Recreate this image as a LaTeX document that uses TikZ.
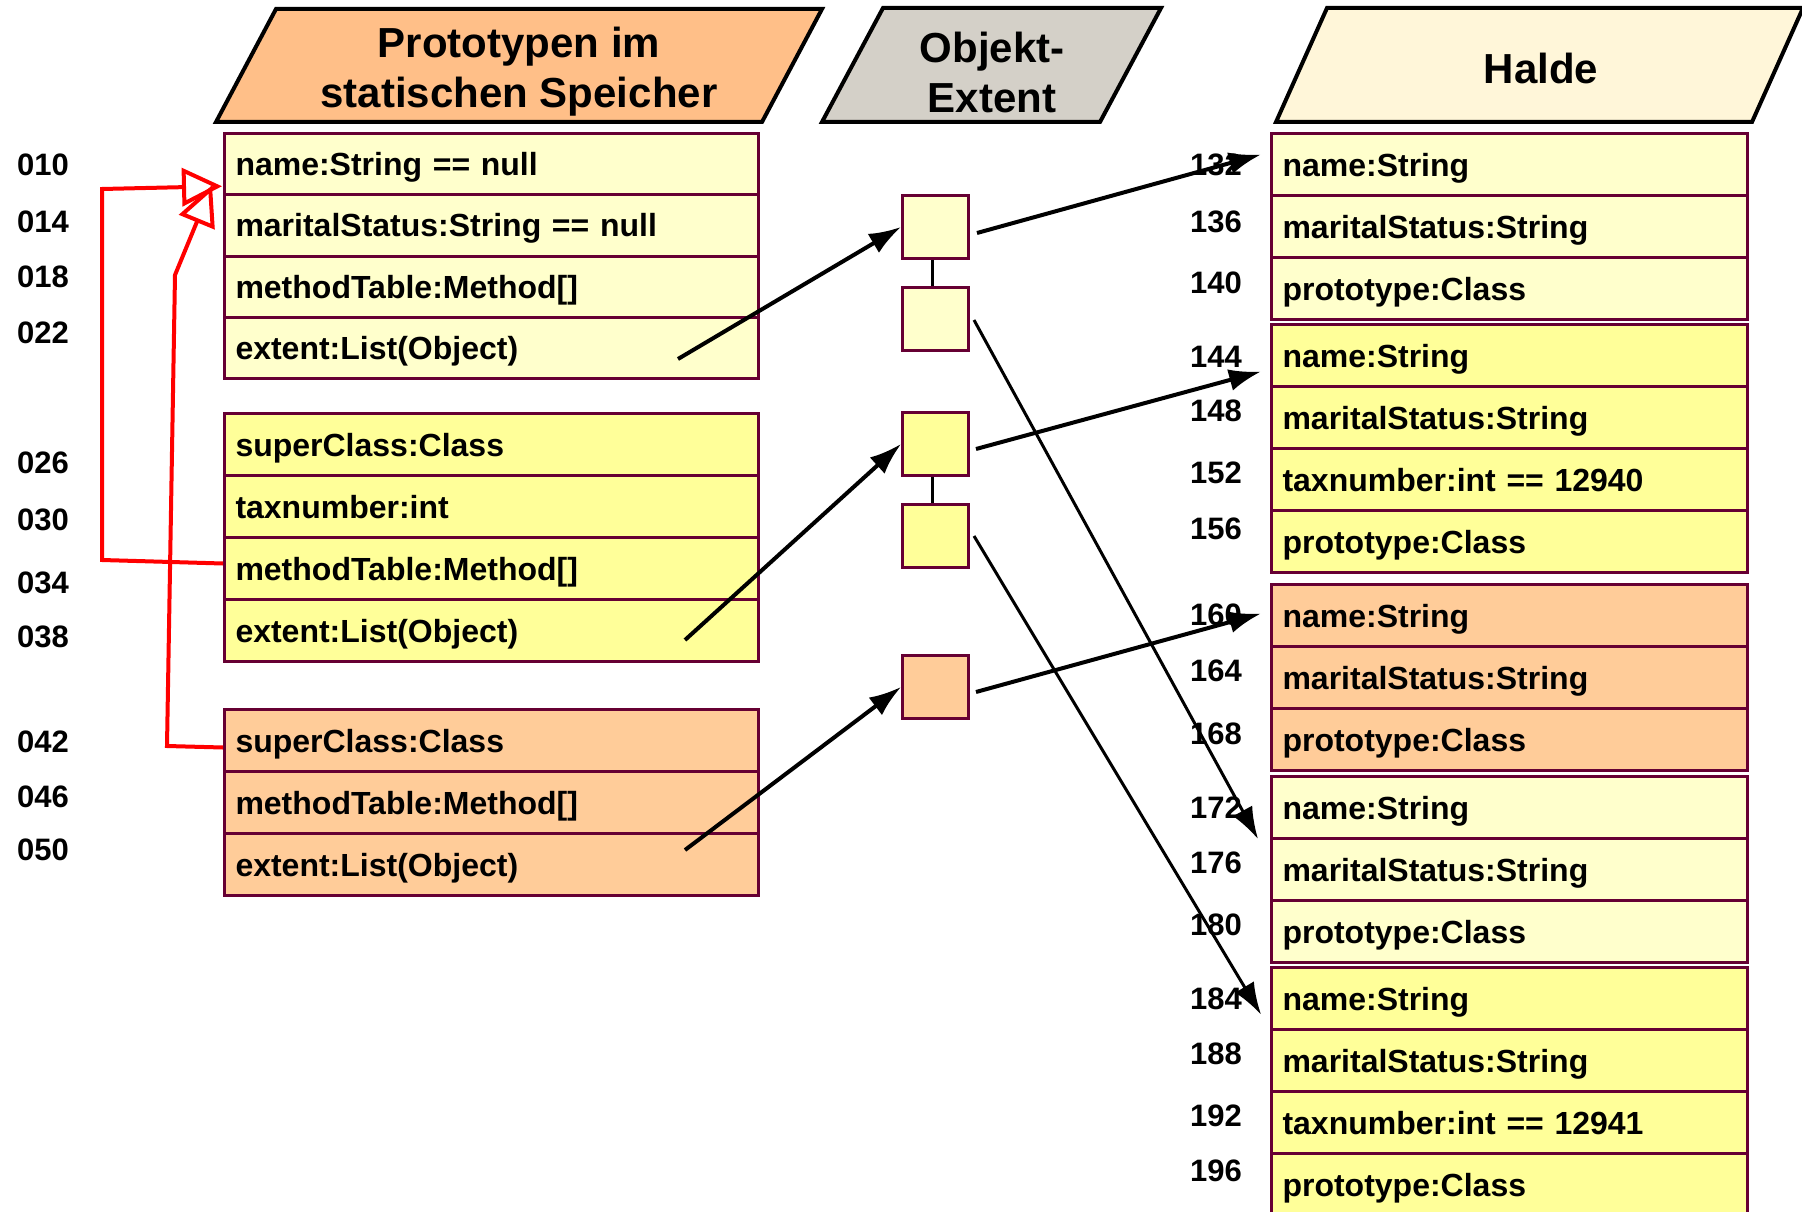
\documentclass[tikz,border=0pt]{standalone}
\usepackage{fontspec}
\setmainfont{Liberation Sans}
\usetikzlibrary{arrows.meta,calc}
\definecolor{lyel}{HTML}{FFFFCC}
\definecolor{yel}{HTML}{FFFF99}
\definecolor{ora}{HTML}{FFCC99}
\definecolor{titora}{HTML}{FFBF88}
\definecolor{titgray}{HTML}{D4D0C8}
\definecolor{titcream}{HTML}{FFF6D9}
\definecolor{framec}{HTML}{660033}
\begin{document}
\begin{tikzpicture}[x=1pt,y=-1pt,
  row/.style={draw=framec, line width=3pt, anchor=north west, minimum height=62pt, inner xsep=11pt, inner ysep=0pt, text height=23pt, text depth=0pt, font=\fontsize{32}{38}\selectfont\bfseries, align=left},
  lrow/.style={row, text width=512pt},
  rrow/.style={row, text width=454pt},
  extbox/.style={draw=framec, line width=3pt, minimum width=66pt, minimum height=63pt, inner sep=0pt, anchor=north west},
  num/.style={font=\fontsize{31}{36}\selectfont\bfseries},
  titletext/.style={font=\fontsize{42}{50}\selectfont\bfseries, align=center},
  para/.style={draw=black, line width=4pt, line join=miter},
  arr/.style={line width=4pt, -{Latex[length=32pt,width=22pt]}},
  thinarr/.style={line width=3pt, -{Latex[length=32pt,width=22pt]}},
  inh/.style={draw=red, line width=4pt, -{Triangle[open,length=40pt,width=38pt]}},
]
\useasboundingbox (0,0) rectangle (1802,1212);

% title parallelograms
\path[para, fill=titora] (216,122) -- (276,9) -- (822,9) -- (762,122) -- cycle;
\node[titletext] (tproto) at (519,72) {Prototypen im\\statischen Speicher};
\path[para, fill=titgray] (822,122) -- (883,8) -- (1161,8) -- (1100,122) -- cycle;
\node[titletext] (tobj) at (992,72) {Objekt-\\Extent};
\path[para, fill=titcream] (1276,122) -- (1327,8) -- (1803,8) -- (1752,122) -- cycle;
\node[titletext] (thalde) at (1541,68) {Halde};

% left prototype boxes
\node[lrow, fill=lyel, minimum height=61.25pt] (a1) at (223,132) {name:String == null};
\node[lrow, fill=lyel, minimum height=61.25pt] (a2) at (223,193.25) {maritalStatus:String == null};
\node[lrow, fill=lyel, minimum height=61.25pt] (a3) at (223,254.5) {methodTable:Method[]};
\node[lrow, fill=lyel, minimum height=61.25pt] (a4) at (223,315.75) {extent:List(Object)};

\node[lrow, fill=yel] (b1) at (223,412) {superClass:Class};
\node[lrow, fill=yel] (b2) at (223,474) {taxnumber:int};
\node[lrow, fill=yel] (b3) at (223,536) {methodTable:Method[]};
\node[lrow, fill=yel] (b4) at (223,598) {extent:List(Object)};

\node[lrow, fill=ora] (c1) at (223,708) {superClass:Class};
\node[lrow, fill=ora] (c2) at (223,770) {methodTable:Method[]};
\node[lrow, fill=ora] (c3) at (223,832) {extent:List(Object)};

% left addresses
\node[num] (n010) at (43,165) {010};
\node[num] (n014) at (43,222) {014};
\node[num] (n018) at (43,277) {018};
\node[num] (n022) at (43,333) {022};
\node[num] (n026) at (43,463) {026};
\node[num] (n030) at (43,520) {030};
\node[num] (n034) at (43,583) {034};
\node[num] (n038) at (43,637) {038};
\node[num] (n042) at (43,742) {042};
\node[num] (n046) at (43,797) {046};
\node[num] (n050) at (43,850) {050};

% object extent boxes
\node[extbox, fill=lyel] (e1) at (901,194) {};
\node[extbox, fill=lyel] (e2) at (901,286) {};
\node[extbox, fill=yel] (e3) at (901,411) {};
\node[extbox, fill=yel] (e4) at (901,503) {};
\node[extbox, fill=ora] (e5) at (901,654) {};
\draw[line width=3.5pt] ($(e1.south)+(-3,0)$) -- ($(e2.north)+(-3,0)$);
\draw[line width=3.5pt] ($(e3.south)+(-3,0)$) -- ($(e4.north)+(-3,0)$);

% heap
\node[rrow, fill=lyel] (r1) at (1270,132) {name:String};
\node[rrow, fill=lyel] (r2) at (1270,194) {maritalStatus:String};
\node[rrow, fill=lyel] (r3) at (1270,256) {prototype:Class};

\node[rrow, fill=yel] (s1) at (1270,323) {name:String};
\node[rrow, fill=yel] (s2) at (1270,385) {maritalStatus:String};
\node[rrow, fill=yel] (s3) at (1270,447) {taxnumber:int == 12940};
\node[rrow, fill=yel] (s4) at (1270,509) {prototype:Class};

\node[rrow, fill=ora] (t1) at (1270,583) {name:String};
\node[rrow, fill=ora] (t2) at (1270,645) {maritalStatus:String};
\node[rrow, fill=ora] (t3) at (1270,707) {prototype:Class};

\node[rrow, fill=lyel] (u1) at (1270,775) {name:String};
\node[rrow, fill=lyel] (u2) at (1270,837) {maritalStatus:String};
\node[rrow, fill=lyel] (u3) at (1270,899) {prototype:Class};

\node[rrow, fill=yel] (v1) at (1270,966) {name:String};
\node[rrow, fill=yel] (v2) at (1270,1028) {maritalStatus:String};
\node[rrow, fill=yel] (v3) at (1270,1090) {taxnumber:int == 12941};
\node[rrow, fill=yel] (v4) at (1270,1152) {prototype:Class};

% heap addresses
\node[num] (h132) at (1216,165) {132};
\node[num] (h136) at (1216,222) {136};
\node[num] (h140) at (1216,283) {140};
\node[num] (h144) at (1216,357) {144};
\node[num] (h148) at (1216,411) {148};
\node[num] (h152) at (1216,473) {152};
\node[num] (h156) at (1216,529) {156};
\node[num] (h160) at (1216,615) {160};
\node[num] (h164) at (1216,671) {164};
\node[num] (h168) at (1216,734) {168};
\node[num] (h172) at (1216,808) {172};
\node[num] (h176) at (1216,863) {176};
\node[num] (h180) at (1216,925) {180};
\node[num] (h184) at (1216,999) {184};
\node[num] (h188) at (1216,1054) {188};
\node[num] (h192) at (1216,1116) {192};
\node[num] (h196) at (1216,1171) {196};

% extent arrows
\coordinate (a4s) at (678,359);
\coordinate (b4s) at (685,640);
\coordinate (c3s) at (685,850);
\draw[arr] (a4s) -- (e1.west);
\draw[arr] (b4s) -- (e3.west);
\draw[arr] (c3s) -- (e5.west);

% heap arrows
\draw[arr] ($(e1.east)+(7,6)$) -- ($(r1.west)+(-9,-10)$);
\draw[arr] ($(e3.east)+(6,5)$) -- ($(s1.west)+(-9,16)$);
\draw[arr] ($(e5.east)+(6,5)$) -- ($(t1.west)+(-9,-2)$);
\draw[thinarr] ($(e2.east)+(4,1)$) -- ($(u1.south west)+(-12,-1)$);
\draw[thinarr] ($(e4.east)+(4,0)$) -- ($(v1.west)+(-9,16)$);

% inheritance (red)
\draw[inh] ($(b3.west)+(0,-5)$) -- (102,560) -- (102,189) -- ($(a1.south west)+(-1,-10)$);
\draw[inh] ($(c1.west)+(0,7)$) -- (167,746) -- (175,275) -- ($(a1.south west)+(-11,-11)$);
\end{tikzpicture}
\end{document}
